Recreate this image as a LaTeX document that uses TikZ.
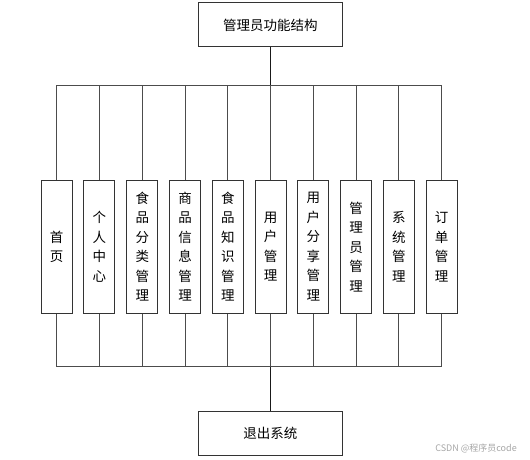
\documentclass[tikz,border=0pt]{standalone}
\usepackage{fontspec}
\setmainfont{Noto Sans CJK SC}
\begin{document}
\begin{tikzpicture}[x=1pt,y=-1pt,
  wide/.style={draw=black!80,line width=1pt,minimum width=144pt,minimum height=44pt,inner sep=0pt,font=\fontsize{13.5}{16}\selectfont},
  col/.style={draw=black!80,line width=1pt,minimum width=31pt,minimum height=133pt,inner sep=0pt,align=center,font=\fontsize{13.5}{19.5}\selectfont},
  link/.style={draw=black!70,line width=1pt},
  trunk/.style={draw=black!90,line width=1.4pt}]
\useasboundingbox (0,0) rectangle (530,460);
\node[wide] (top) at (270.3,25) {管理员功能结构};
\node[wide] (bot) at (270.3,433) {退出系统};
\coordinate (ub) at (270.3,85);
\coordinate (lb) at (270.3,366.7);
\foreach \i/\t in {1/{首\\页},2/{个\\人\\中\\心},3/{食\\品\\分\\类\\管\\理},4/{商\\品\\信\\息\\管\\理},5/{食\\品\\知\\识\\管\\理},6/{用\\户\\管\\理},7/{用\\户\\分\\享\\管\\理},8/{管\\理\\员\\管\\理},9/{系\\统\\管\\理},10/{订\\单\\管\\理}}{
  \node[col] (b\i) at ({56.7+42.78*(\i-1)},246.8) {\t};
  \draw[link] (ub) -| (b\i.north);
  \draw[link] (b\i.south) |- (lb);
}
\draw[trunk] (top.south) -- (ub);
\draw[trunk] (lb) -- (bot.north);
\node[text=black!35,font=\fontsize{9}{10}\selectfont,inner sep=0pt] (wm) at (476,448) {CSDN @程序员code};
\end{tikzpicture}
\end{document}
